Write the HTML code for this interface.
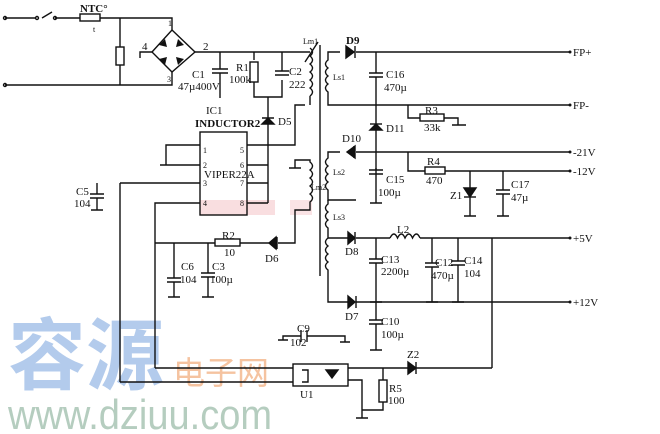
<!DOCTYPE html>
<html><head><meta charset="utf-8"><style>
html,body{margin:0;padding:0;background:#fff}
svg{display:block}
text{font-family:"Liberation Serif",serif;fill:#111}
.s{font-size:11px}
.t{font-size:8px}
</style></head><body>
<svg width="660" height="434" viewBox="0 0 660 434" xmlns="http://www.w3.org/2000/svg">
<rect x="200" y="200" width="75" height="15" fill="#f5c8cc" opacity="0.6"/>
<rect x="290" y="200" width="22" height="15" fill="#f5c8cc" opacity="0.5"/>
<text x="8" y="383" style="font-family:'Noto Sans CJK SC',sans-serif;font-size:78px;fill:#b3cbec;font-weight:bold">容源</text>
<text x="173" y="384" style="font-family:'Noto Sans CJK SC',sans-serif;font-size:32px;fill:#f5c3a0">电子网</text>
<text x="8" y="429" textLength="264" lengthAdjust="spacingAndGlyphs" style="font-family:'Liberation Sans',sans-serif;font-size:42px;fill:#b5cdbf">www.dziuu.com</text>

<g stroke="#111" stroke-width="1.4" fill="none">
<path d="M5 18H35 M42 18L52 12 M55 18H80 M100 18H172V30 M5 85H172V72"/>
<circle cx="5" cy="18" r="1.5"/><circle cx="5" cy="85" r="1.5"/>
<circle cx="37" cy="18" r="1.5"/><circle cx="55" cy="18" r="1.5"/>
<rect x="80" y="14" width="20" height="7"/>
<path d="M120 18V47 M120 65V85"/><rect x="116" y="47" width="8" height="18"/>
<path d="M172 30L195 52L172 72L152 52Z"/>
<path d="M152 52H140V58"/>
<path d="M195 52H310"/>
<path d="M220 52V69 M212 69H228 M212 73H228 M220 73V98"/>
<path d="M254 52V60 M254 82V97H282V80 M282 52V71 M275 71H289 M275 75H289"/>
<rect x="250" y="62" width="8" height="20"/>
<path d="M268 97V203 M262 118H274"/>
<path d="M262 124L268 118L274 124Z" fill="#111"/>
<rect x="200" y="132" width="47" height="83"/>
<path d="M200 145H166V165 M160 165H172 M200 165H166 M200 183H120 M200 203H155V368 M247 145H295V105H305 M247 165H268 M247 183H268 M247 203H268"/>
<path d="M97 183V194 M90 194H104 M90 198H104 M97 198V210 M91 210H103 M120 183V382"/>
<path d="M310 48 q5 4 0 8 q5 4 0 8 q5 4 0 8 q5 4 0 8 q5 4 0 8 q5 4 0 8 M310 96V105"/>
<path d="M318 42L305 62"/>
<path d="M320 45V276"/>
<path d="M295 168V160H310 V162 q5 4 0 8 q5 4 0 8 q5 4 0 8 q5 4 0 8 q5 4 0 8 V210H295V243H278 M289 168H301"/>
<path d="M340 52H328V60 q-5 4 0 8 q-5 4 0 8 q-5 4 0 8 q-5 4 0 8 V105H570"/>
<path d="M356 52H570"/><path d="M346 46L354 52L346 58Z" fill="#111"/><path d="M355 46V58"/>
<path d="M376 52V73 M369 73H383 M369 77H383 M376 77V203 M370 203H382"/>
<path d="M370 130L376 124L382 130Z" fill="#111"/><path d="M370 124H382"/>
<path d="M376 168V170 M369 170H383 M369 174H383"/>
<path d="M408 105V118H420 M444 118H458V125 M452 125H466"/>
<rect x="420" y="114" width="24" height="7"/>
<path d="M340 152H328V158 q-5 4 0 8 q-5 4 0 8 q-5 4 0 8 q-5 4 0 8 V200H348 M344 200H356"/>
<path d="M356 152H570 M354 146V158"/><path d="M355 146L347 152L355 158Z" fill="#111"/>
<path d="M408 152V171H425 M445 171H570"/>
<rect x="425" y="167" width="20" height="7"/>
<path d="M470 171V216 M464 216H476 M503 171V190 M496 190H510 M496 194H510 M503 194V216 M497 216H509"/>
<path d="M464 197H476"/><path d="M464 188L470 197L476 188Z" fill="#111"/>
<path d="M328 200V204 q-5 4 0 8 q-5 4 0 8 q-5 4 0 8 V238 q-5 4 0 8 q-5 4 0 8 q-5 4 0 8 q-5 4 0 8 V302H348"/>
<path d="M328 238H348 M356 238H390 M420 238H570 M355 232V244 M356 296V308 M356 302H570"/>
<path d="M348 232L355 238L348 244Z" fill="#111"/><path d="M348 296L355 302L348 308Z" fill="#111"/>
<path d="M390 238 q4 -8 7.5 0 q4 -8 7.5 0 q4 -8 7.5 0 q4 -8 7.5 0"/>
<path d="M376 238V259 M369 259H383 M369 263H383 M376 263V302 M370 302H382"/>
<path d="M432 238V263 M425 263H439 M425 267H439 M432 267V302 M426 302H438"/>
<path d="M458 238V261 M451 261H465 M451 265H465 M458 265V302 M452 302H464"/>
<path d="M492 238V368"/>
<path d="M376 302V320 M369 320H383 M369 324H383 M376 324V350 M370 350H382"/>
<path d="M155 243H215 M240 243H270 M277 237V249"/><rect x="215" y="239" width="25" height="7"/>
<path d="M276 237L269 243L276 249Z" fill="#111"/>
<path d="M174 243V278 M167 278H181 M167 282H181 M174 282V297 M168 297H180"/>
<path d="M208 243V273 M201 273H215 M201 277H215 M208 277V297 M202 297H214"/>
<path d="M283 340V336H301 M307 336H345V342 M301 330V342 M307 330V342 M278 340H288 M340 342H350"/>
<rect x="293" y="364" width="55" height="22"/>
<path d="M155 368H293 M120 382H293 M348 368H408 M416 368H492 M348 380H362V410H383V402 M383 368V380 M356 418H368 M362 410V418"/>
<rect x="379" y="380" width="8" height="22"/>
<path d="M408 362L416 368L408 374Z" fill="#111"/><path d="M416 362V374"/>
<path d="M302 370H308V382H302"/>
<path d="M326 370L332 378L338 370Z" fill="#111"/>
</g>
<!-- bridge diodes -->
<g fill="#111">
<path d="M159 45L165 39L167 47Z"/><path d="M178 39L184 45L176 47Z"/>
<path d="M159 59L167 57L165 65Z"/><path d="M176 57L184 59L178 65Z"/>
</g>
<g fill="#111" stroke="none">
<circle cx="570" cy="52" r="1.5"/><circle cx="570" cy="105" r="1.5"/><circle cx="570" cy="152" r="1.5"/><circle cx="570" cy="171" r="1.5"/><circle cx="570" cy="238" r="1.5"/><circle cx="570" cy="302" r="1.5"/>
</g>
<text x="80" y="12" class="s" font-weight="bold">NTC°</text>
<text x="93" y="32" class="t">t</text>
<text x="168" y="26" class="t">1</text><text x="167" y="82" class="t">3</text>
<text x="142" y="50" class="s">4</text><text x="203" y="50" class="s">2</text>
<text x="192" y="78" class="s">C1</text><text x="178" y="90" class="s">47µ400V</text>
<text x="236" y="71" class="s">R1</text><text x="229" y="83" class="s">100k</text>
<text x="289" y="75" class="s">C2</text><text x="289" y="88" class="s">222</text>
<text x="206" y="114" class="s">IC1</text><text x="195" y="127" class="s" font-weight="bold">INDUCTOR2</text>
<text x="278" y="125" class="s">D5</text>
<text x="203" y="153" class="t">1</text><text x="203" y="168" class="t">2</text><text x="203" y="186" class="t">3</text><text x="203" y="206" class="t">4</text>
<text x="240" y="153" class="t">5</text><text x="240" y="168" class="t">6</text><text x="240" y="186" class="t">7</text><text x="240" y="206" class="t">8</text>
<text x="204" y="178" class="s">VIPER22A</text>
<text x="76" y="195" class="s">C5</text><text x="74" y="207" class="s">104</text>
<text x="303" y="44" class="t">Lm1</text><text x="333" y="80" class="t">Ls1</text>
<text x="311" y="190" class="t">Lm2</text><text x="333" y="175" class="t">Ls2</text><text x="333" y="220" class="t">Ls3</text>
<text x="346" y="44" class="s" font-weight="bold">D9</text>
<text x="386" y="78" class="s">C16</text><text x="384" y="91" class="s">470µ</text>
<text x="386" y="132" class="s">D11</text>
<text x="342" y="142" class="s">D10</text>
<text x="386" y="183" class="s">C15</text><text x="378" y="196" class="s">100µ</text>
<text x="425" y="114" class="s">R3</text><text x="424" y="131" class="s">33k</text>
<text x="427" y="165" class="s">R4</text><text x="426" y="184" class="s">470</text>
<text x="450" y="199" class="s">Z1</text>
<text x="511" y="188" class="s">C17</text><text x="511" y="201" class="s">47µ</text>
<text x="573" y="56" class="s">FP+</text><text x="573" y="109" class="s">FP-</text>
<text x="573" y="156" class="s">-21V</text><text x="573" y="175" class="s">-12V</text>
<text x="573" y="242" class="s">+5V</text><text x="573" y="306" class="s">+12V</text>
<text x="397" y="233" class="s">L2</text>
<text x="345" y="255" class="s">D8</text>
<text x="381" y="263" class="s">C13</text><text x="381" y="275" class="s">2200µ</text>
<text x="435" y="266" class="s">C12</text><text x="431" y="279" class="s">470µ</text>
<text x="464" y="264" class="s">C14</text><text x="464" y="277" class="s">104</text>
<text x="345" y="320" class="s">D7</text>
<text x="381" y="325" class="s">C10</text><text x="381" y="338" class="s">100µ</text>
<text x="297" y="332" class="s">C9</text><text x="290" y="346" class="s">102</text>
<text x="222" y="239" class="s">R2</text><text x="224" y="256" class="s">10</text>
<text x="265" y="262" class="s">D6</text>
<text x="181" y="270" class="s">C6</text><text x="180" y="283" class="s">104</text>
<text x="212" y="270" class="s">C3</text><text x="210" y="283" class="s">100µ</text>
<text x="300" y="398" class="s">U1</text>
<text x="407" y="358" class="s">Z2</text>
<text x="389" y="392" class="s">R5</text><text x="388" y="404" class="s">100</text>
</svg>
</body></html>
